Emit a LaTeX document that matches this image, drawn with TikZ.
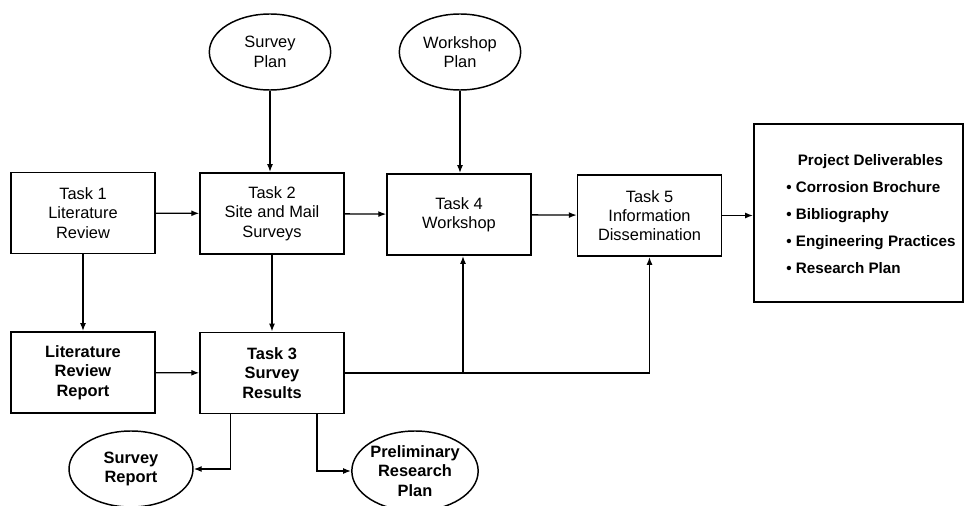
\documentclass[tikz,border=0pt]{standalone}
\usepackage{fontspec}
\setmainfont{Liberation Sans}
\usetikzlibrary{arrows.meta,positioning,calc,shapes.geometric}

\begin{document}
\begin{tikzpicture}[
 x=0.75pt,y=-0.75pt,
 every node/.style={font=\fontsize{12.3}{14.5}\selectfont,align=center},
 task/.style={draw=black,line width=1.1pt,minimum width=108pt,minimum height=61pt,inner sep=2pt},
 plan/.style={draw=black,line width=1.1pt,ellipse,minimum width=91pt,minimum height=57pt,inner sep=0pt},
 heavy/.style={font=\fontsize{12.3}{14.5}\selectfont\bfseries},
 arr/.style={-{Latex[length=6pt,width=4.5pt]},line width=1pt}
]
 \useasboundingbox (0,0) rectangle (977,506);
 % top row
 \node[task] (t1) at (83,213) {Task 1\\Literature\\Review};
 \node[task] (t2) at (272,213.5) {Task 2\\Site and Mail\\Surveys};
 \node[task] (t4) at (459,214.5) {Task 4\\Workshop};
 \node[task] (t5) at (649.5,215.5) {Task 5\\Information\\Dissemination};
 \node[draw=black,line width=1.1pt,minimum width=157pt,minimum height=133.5pt] (deliv) at (858.5,213) {};
 \node[align=left,font=\fontsize{11.4}{20.3}\selectfont\bfseries] (delivtext) at (871,214)
   {\hspace*{0.75em}Project Deliverables\\
    • Corrosion Brochure\\
    • Bibliography\\
    • Engineering Practices\\
    • Research Plan};
 % plans
 \node[plan] (splan) at (270,52) {Survey\\Plan};
 \node[plan] (wplan) at (460,52) {Workshop\\Plan};
 % second row
 \node[task,heavy] (lrr) at (83,372.5) {Literature\\Review\\Report};
 \node[task,heavy] (t3) at (272,373) {Task 3\\Survey\\Results};
 % outputs of task 3
 \node[plan,heavy,minimum width=93pt] (srep) at (131,469) {Survey\\Report};
 \node[plan,heavy,minimum width=94pt,minimum height=60pt] (prp) at (415,471) {Preliminary\\Research\\Plan};

 \draw[arr] (t1) -- (t2);
 \draw[arr] (t2) -- (t4);
 \draw[arr] (t4) -- (t5);
 \draw[arr] (t5.east) -- (t5.east -| deliv.west);
 \draw[arr] (splan) -- (splan |- t2.north);
 \draw[arr] (wplan) -- (wplan |- t4.north);
 \draw[arr] (t1) -- (lrr);
 \draw[arr] (t2) -- (t3);
 \draw[arr] (lrr) -- (t3);
 \draw[arr] (t3.east) -| ($(t4.south)+(4,0)$);
 \draw[arr] (t3.east) -| (t5.south);
 \draw[arr] ($(t3.south west)!0.215!(t3.south east)$) |- (srep.east);
 \draw[arr] ($(t3.south west)!0.81!(t3.south east)$) |- (prp.west);
\end{tikzpicture}
\end{document}
